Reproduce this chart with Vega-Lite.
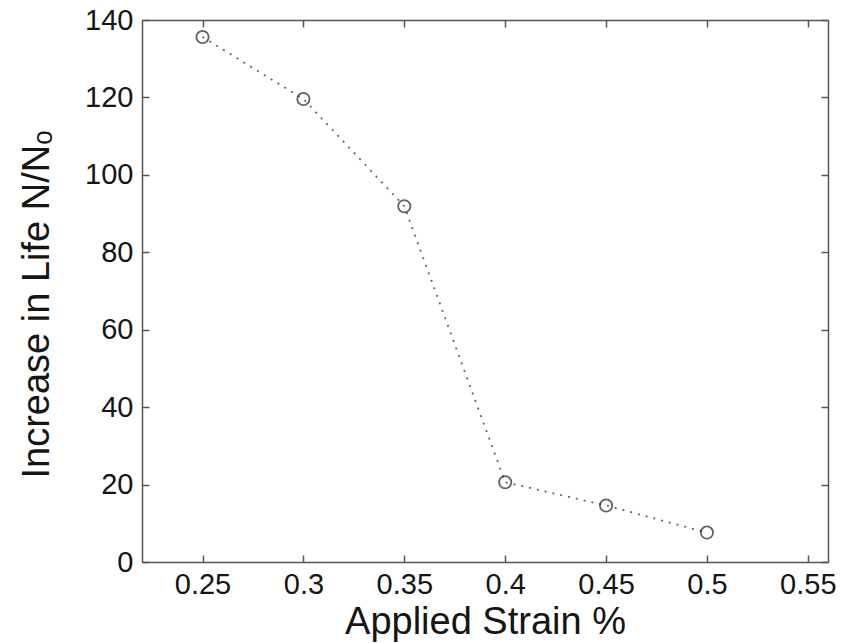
{
  "$schema": "https://vega.github.io/schema/vega-lite/v6.json",
  "autosize": "none",
  "width": 686,
  "height": 542,
  "padding": {"left": 142, "top": 20, "right": 24, "bottom": 81},
  "background": "white",
  "config": {
    "view": {"stroke": null},
    "font": "Liberation Sans",
    "axis": {
      "grid": false,
      "domainColor": "#555555",
      "domainWidth": 1.5,
      "tickColor": "#555555",
      "tickWidth": 1.5,
      "tickSize": -7,
      "labelFont": "Liberation Sans",
      "labelFontSize": 29,
      "labelColor": "#151515",
      "titleFont": "Liberation Sans",
      "titleFontSize": 38,
      "titleFontWeight": "normal",
      "titleColor": "#151515"
    }
  },
  "data": {
    "values": [
      {"strain": 0.25, "life": 135.6},
      {"strain": 0.3, "life": 119.6},
      {"strain": 0.35, "life": 91.9},
      {"strain": 0.4, "life": 20.6},
      {"strain": 0.45, "life": 14.6},
      {"strain": 0.5, "life": 7.6}
    ]
  },
  "resolve": {"axis": {"x": "independent", "y": "independent"}},
  "layer": [
    {
      "mark": {"type": "line", "color": "#666666", "strokeWidth": 1.8, "strokeDash": [2, 6]},
      "encoding": {
        "x": {
          "field": "strain", "type": "quantitative",
          "scale": {"domain": [0.22, 0.56], "nice": false, "zero": false},
          "axis": {"values": [0.25, 0.3, 0.35, 0.4, 0.45, 0.5, 0.55], "labelPadding": 15, "title": "Applied Strain %", "titleBaseline": "alphabetic", "titleY": 71, "labelFlush": false, "labelExpr": "datum.value == 0.3 ? '0.3' : datum.value == 0.4 ? '0.4' : datum.value == 0.5 ? '0.5' : datum.label"}
        },
        "y": {
          "field": "life", "type": "quantitative",
          "scale": {"domain": [0, 140], "nice": false},
          "axis": {"values": [0, 20, 40, 60, 80, 100, 120, 140], "labelPadding": 16, "title": "Increase in Life  N/Nₒ", "titleBaseline": "alphabetic", "titleX": -94, "titleY": 284, "labelFlush": false}
        }
      }
    },
    {
      "mark": {"type": "point", "shape": "circle", "size": 150, "filled": false, "stroke": "#222222", "strokeWidth": 1.8},
      "encoding": {
        "x": {"field": "strain", "type": "quantitative", "axis": {"orient": "top", "values": [0.25, 0.3, 0.35, 0.4, 0.45, 0.5, 0.55], "labels": false, "title": null}},
        "y": {"field": "life", "type": "quantitative", "axis": {"orient": "right", "values": [0, 20, 40, 60, 80, 100, 120, 140], "labels": false, "title": null}}
      }
    }
  ]
}
